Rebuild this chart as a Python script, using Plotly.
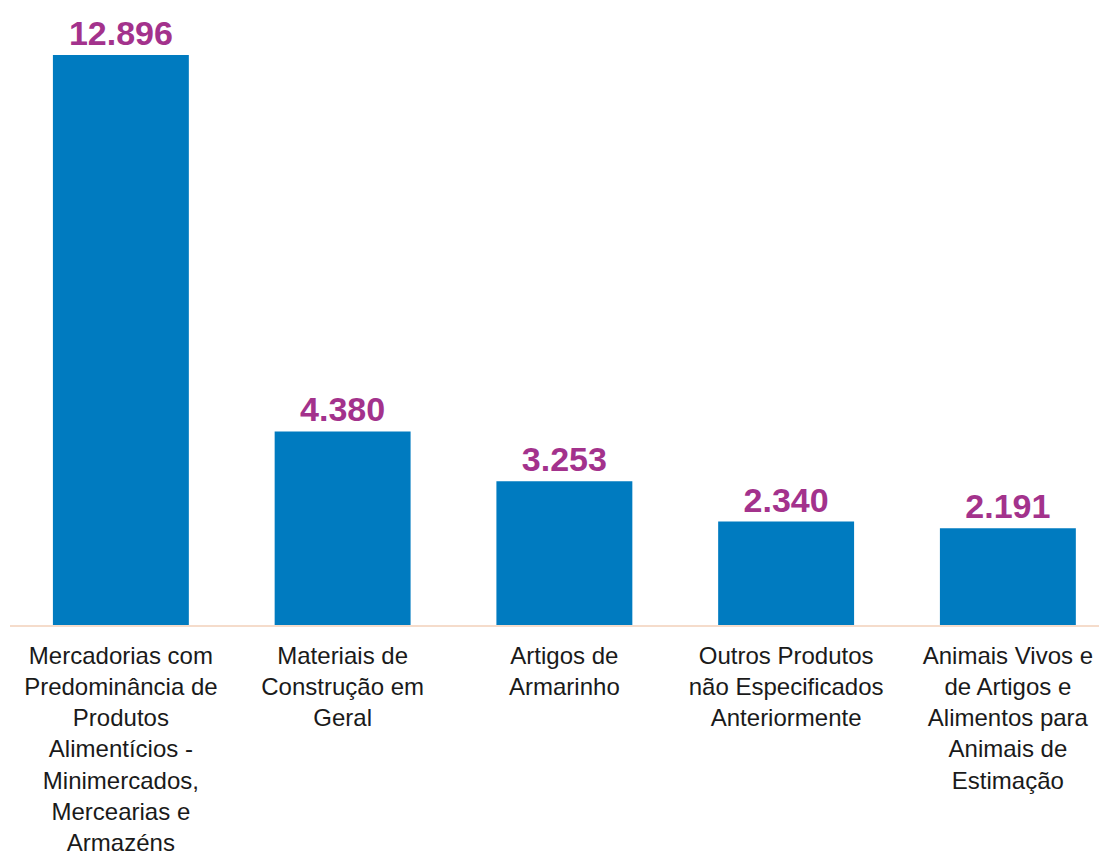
import plotly.graph_objects as go

categories = [
    "Mercadorias com<br>Predominância de<br>Produtos<br>Alimentícios -<br>Minimercados,<br>Mercearias e<br>Armazéns",
    "Materiais de<br>Construção em<br>Geral",
    "Artigos de<br>Armarinho",
    "Outros Produtos<br>não Especificados<br>Anteriormente",
    "Animais Vivos e<br>de Artigos e<br>Alimentos para<br>Animais de<br>Estimação",
]
values = [12896, 4380, 3253, 2340, 2191]

BAR_COLOR = "#007BC0"
LABEL_COLOR = "#A3328C"

fig = go.Figure(
    go.Bar(
        x=categories,
        y=values,
        marker=dict(color=BAR_COLOR, line=dict(width=0)),
        texttemplate="%{y:,.0f}",
        textposition="outside",
        textfont=dict(family="Liberation Sans, Arial, sans-serif", size=34,
                      color=LABEL_COLOR, weight="bold"),
        cliponaxis=False,
        hoverinfo="skip",
    )
)

fig.update_layout(
    width=1099,
    height=852,
    margin=dict(l=2, r=0, t=0, b=235, autoexpand=False),
    paper_bgcolor="white",
    plot_bgcolor="white",
    separators=",.",
    bargap=0.387,
    showlegend=False,
    font=dict(family="Liberation Sans, Arial, sans-serif"),
)
fig.update_xaxes(
    range=[-0.5, 4.447],
    automargin=False,
    showline=True,
    linecolor="#F5DCCB",
    linewidth=2,
    showgrid=False,
    zeroline=False,
    ticks="",
    ticklabelstandoff=8,
    tickfont=dict(family="Liberation Sans, Arial, sans-serif", size=24, color="#1a1a1a"),
    tickangle=0,
)
fig.update_yaxes(
    range=[0, 13959],
    visible=False,
    automargin=False,
    showgrid=False,
    zeroline=False,
)

fig.write_html("out.html")
